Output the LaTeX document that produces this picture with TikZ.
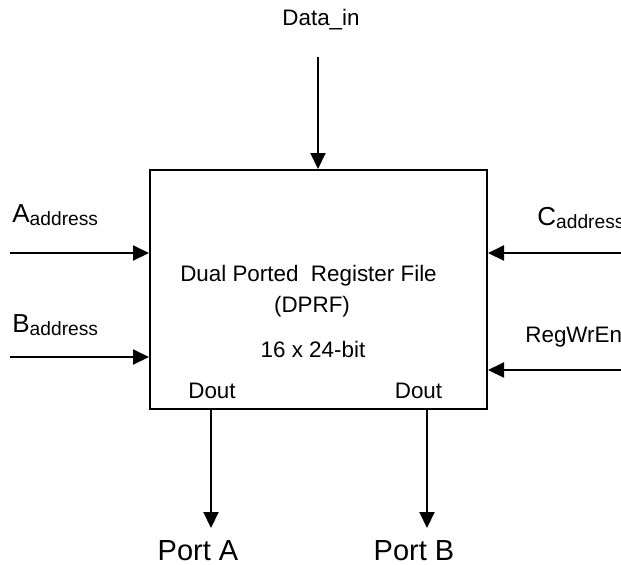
\documentclass[tikz,border=0pt]{standalone}
\usepackage{fontspec}
\setmainfont{Liberation Sans}
\usetikzlibrary{arrows.meta}
\newcommand{\sublabel}[2]{{\fontsize{13}{15}\selectfont #1}\raisebox{-1.5pt}{\fontsize{9.6}{11}\selectfont #2}}

\begin{document}
\begin{tikzpicture}[x=0.5pt,y=-0.5pt]
        \tikzstyle{block} = [rectangle, draw=black, line width=1pt, minimum width=168.5pt, minimum height=119.5pt, inner sep=0pt]
        \tikzstyle{txt} = [font=\fontsize{11.2}{13}\selectfont, inner sep=0pt]
        \tikzstyle{port} = [font=\fontsize{14.5}{17}\selectfont, inner sep=0pt]
        \tikzstyle{arrow} = [line width=1pt, -{Triangle[length=8pt,width=7.5pt]}]

        \clip (0,0) rectangle (621,564);

        \node (dprf) [block] at (318.5,289.5) {};
        \node (title) [txt, anchor=base] at (308.5,281) {Dual Ported\ \ Register File};
        \node (abbr) [txt, anchor=base] at (312,312) {(DPRF)};
        \node (size) [txt, anchor=base] at (313,357) {16 x 24-bit};
        \node (douta) [txt, anchor=base] at (212,398) {Dout};
        \node (doutb) [txt, anchor=base] at (418.5,398) {Dout};

        \node (din) [txt, anchor=base] at (321,25) {Data\_in};
        \node (aaddr) [txt, anchor=base west] at (12,222) {\sublabel{A}{address}};
        \node (baddr) [txt, anchor=base west] at (12,332) {\sublabel{B}{address}};
        \node (caddr) [txt, anchor=base west] at (537,225) {\sublabel{C}{address}};
        \node (wren) [txt, anchor=base west] at (525,342) {RegWrEn};
        \node (porta) [port, anchor=base] at (198,560) {Port A};
        \node (portb) [port, anchor=base] at (414,560) {Port B};

        \coordinate (dintop) at (318,57);
        \coordinate (ain) at (10,253);
        \coordinate (bin) at (10,357);
        \coordinate (cin) at (621,253);
        \coordinate (wrin) at (621,370);
        \coordinate (aout) at (211,528);
        \coordinate (bout) at (427,528);

        \draw [arrow] (dintop) -- (dintop |- dprf.north);
        \draw [arrow] (ain) -- (ain -| dprf.west);
        \draw [arrow] (bin) -- (bin -| dprf.west);
        \draw [arrow] (cin) -- (cin -| dprf.east);
        \draw [arrow] (wrin) -- (wrin -| dprf.east);
        \draw [arrow] (aout |- dprf.south) -- (aout);
        \draw [arrow] (bout |- dprf.south) -- (bout);
    \end{tikzpicture}
\end{document}
